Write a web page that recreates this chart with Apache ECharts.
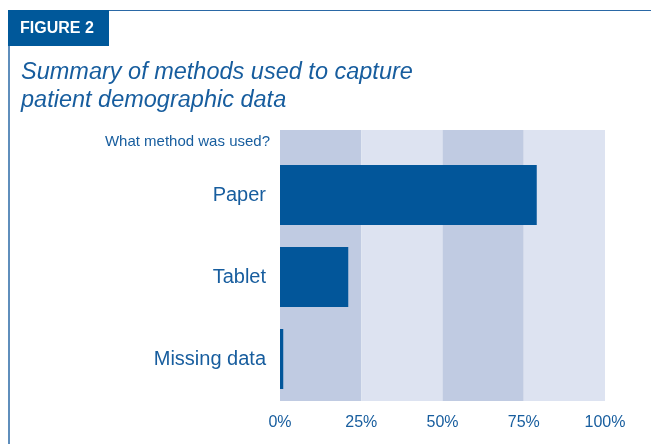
<!DOCTYPE html>
<html>
<head>
<meta charset="utf-8">
<script src="https://cdn.jsdelivr.net/npm/echarts@6/dist/echarts.min.js"></script>
<style>
html,body{margin:0;padding:0;background:#fff;}
#chart{width:651px;height:444px;}
</style>
</head>
<body>
<div id="chart"></div>
<script>
const figureLabel = 'FIGURE 2';
const titleLines = ['Summary of methods used to capture', 'patient demographic data'];
const questionLabel = 'What method was used?';
const categories = ['Paper', 'Tablet', 'Missing data'];
const values = [79, 21, 1];
const tickValues = [0, 25, 50, 75, 100];

const BLUE = '#02569a';
const TEXT = '#175d9e';

const chart = echarts.init(document.getElementById('chart'), null, {renderer: 'canvas'});
chart.setOption({
  backgroundColor: '#ffffff',
  animation: false,
  graphic: [
    {type: 'line', shape: {x1: 8, y1: 10.5, x2: 651, y2: 10.5}, style: {stroke: '#2a68a6', lineWidth: 1.2}, z: 1},
    {type: 'line', shape: {x1: 9, y1: 10, x2: 9, y2: 444}, style: {stroke: '#2a68a6', lineWidth: 1.5}, z: 1},
    {type: 'rect', shape: {x: 8, y: 10, width: 101, height: 36}, style: {fill: '#00589a'}, z: 2}
  ],
  title: [
    {text: figureLabel, left: 20, top: 21, padding: 0, z: 5,
     textStyle: {color: '#ffffff', fontFamily: 'Liberation Sans, Arial', fontWeight: 'bold', fontSize: 16}},
    {text: titleLines.join('\n'), left: 21, top: 58, padding: 0,
     textStyle: {color: TEXT, fontFamily: 'Liberation Sans, Arial', fontStyle: 'italic', fontWeight: 'normal', fontSize: 23.5, lineHeight: 28}},
    {text: questionLabel, right: 381, top: 134, padding: 0,
     textStyle: {color: TEXT, fontFamily: 'Liberation Sans, Arial', fontWeight: 'normal', fontSize: 15}}
  ],
  grid: [
    {left: 280, top: 130, width: 325, height: 271},
    {left: 280, top: 154, width: 325, height: 246}
  ],
  xAxis: [
    {type: 'value', gridIndex: 0, min: 0, max: 100, interval: 25,
     axisLine: {show: false}, axisTick: {show: false}, splitLine: {show: false},
     splitArea: {show: true, areaStyle: {color: ['#c0cbe2', '#dde3f1']}},
     axisLabel: {formatter: v => tickValues.includes(v) ? v + '%' : '', color: TEXT, fontSize: 16,
       fontFamily: 'Liberation Sans, Arial', margin: 14}},
    {type: 'value', gridIndex: 1, min: 0, max: 100, interval: 25, show: false}
  ],
  yAxis: [
    {type: 'category', gridIndex: 0, data: [''], show: false},
    {type: 'category', gridIndex: 1, data: categories, inverse: true,
     axisLine: {show: false}, axisTick: {show: false},
     axisLabel: {color: TEXT, fontSize: 20, fontFamily: 'Liberation Sans, Arial', margin: 14}}
  ],
  series: [
    {type: 'bar', xAxisIndex: 1, yAxisIndex: 1, data: values, barWidth: 60,
     itemStyle: {color: BLUE}, silent: true}
  ]
});
</script>
</body>
</html>
